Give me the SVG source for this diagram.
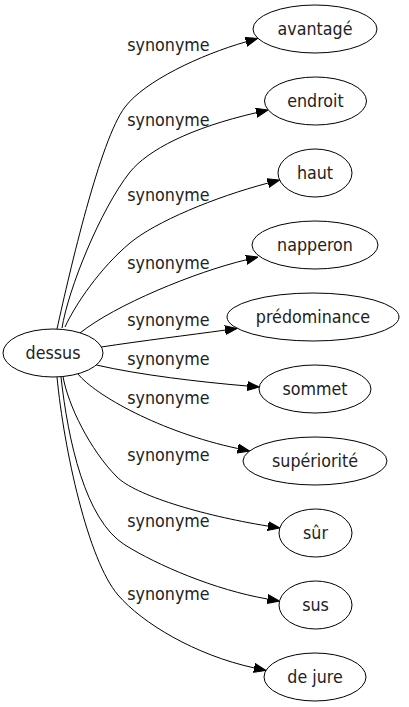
<svg xmlns="http://www.w3.org/2000/svg" width="409" height="707" viewBox="0 0 409 707">
<style>
.n ellipse{fill:none;stroke:#000;stroke-width:1}
text{font-family:"DejaVu Sans Condensed","DejaVu Sans",sans-serif;font-stretch:condensed;font-size:17.7px;fill:#222;text-anchor:middle}
.e path{fill:none;stroke:#000;stroke-width:1;marker-end:url(#ah)}
</style>
<defs>
<marker id="ah" viewBox="0 -5 12 10" refX="0" refY="0" markerWidth="12" markerHeight="10" markerUnits="userSpaceOnUse" orient="auto">
<path d="M0,-4.5 L12,0 L0,4.5 z" fill="#000" stroke="#000" stroke-width="1"/>
</marker>
</defs>
<rect width="409" height="707" fill="#fff"/>
<g id="edges" class="e">
<path d="M57,329 C70,270 100,140 125,107 C145,81 200,55 246,41.8"/>
<path d="M62,328 C68,290 100,210 130,172 C148,150 190,128 256.3,112.7"/>
<path d="M65,327 C75,305 100,268 130,243 C155,222 215,197 267.9,183.1"/>
<path d="M80,333 C115,305 195,272 246.3,259.8"/>
<path d="M101.4,347 C140,341 190,335 225.1,330.1"/>
<path d="M96.3,365 C140,375 200,382 247.3,386"/>
<path d="M78,374 C95,395 160,432 237.8,448.5"/>
<path d="M63,376.5 C68,405 90,450 117,477 C135,495 200,515 268,526.1"/>
<path d="M61,377 C68,440 85,520 125,545 C157,565 215,590 267.5,599"/>
<path d="M57,377 C64,450 88,560 118,595 C142,623 195,655 254.1,667.9"/>
</g>
<g id="edge-labels">
<text x="168.5" y="51">synonyme</text>
<text x="168.5" y="126">synonyme</text>
<text x="168.5" y="201">synonyme</text>
<text x="168.5" y="269">synonyme</text>
<text x="168.5" y="326">synonyme</text>
<text x="168.5" y="364.5">synonyme</text>
<text x="168.5" y="403.5">synonyme</text>
<text x="168.5" y="460.5">synonyme</text>
<text x="168.5" y="526.5">synonyme</text>
<text x="168.5" y="600">synonyme</text>
</g>
<g id="dessus" class="n"><ellipse cx="53" cy="353" rx="50" ry="24"/><text x="53" y="359">dessus</text></g>
<g id="avantage" class="n"><ellipse cx="315" cy="29" rx="62" ry="24"/><text x="315" y="35">avantagé</text></g>
<g id="endroit" class="n"><ellipse cx="315.5" cy="101" rx="51" ry="24"/><text x="315.5" y="107">endroit</text></g>
<g id="haut" class="n"><ellipse cx="315" cy="173" rx="37" ry="24"/><text x="315" y="179">haut</text></g>
<g id="napperon" class="n"><ellipse cx="315" cy="245" rx="63" ry="24"/><text x="315" y="251">napperon</text></g>
<g id="predominance" class="n"><ellipse cx="313" cy="317" rx="86" ry="24"/><text x="313" y="323">prédominance</text></g>
<g id="sommet" class="n"><ellipse cx="315" cy="389" rx="56" ry="24"/><text x="315" y="395">sommet</text></g>
<g id="superiorite" class="n"><ellipse cx="315" cy="461" rx="72" ry="24"/><text x="315" y="467">supériorité</text></g>
<g id="sur" class="n"><ellipse cx="315.5" cy="533" rx="36.5" ry="24"/><text x="315.5" y="539">sûr</text></g>
<g id="sus" class="n"><ellipse cx="315.5" cy="605" rx="36.5" ry="24"/><text x="315.5" y="611">sus</text></g>
<g id="de-jure" class="n"><ellipse cx="315" cy="677" rx="51" ry="24"/><text x="315" y="683">de jure</text></g>
</svg>
